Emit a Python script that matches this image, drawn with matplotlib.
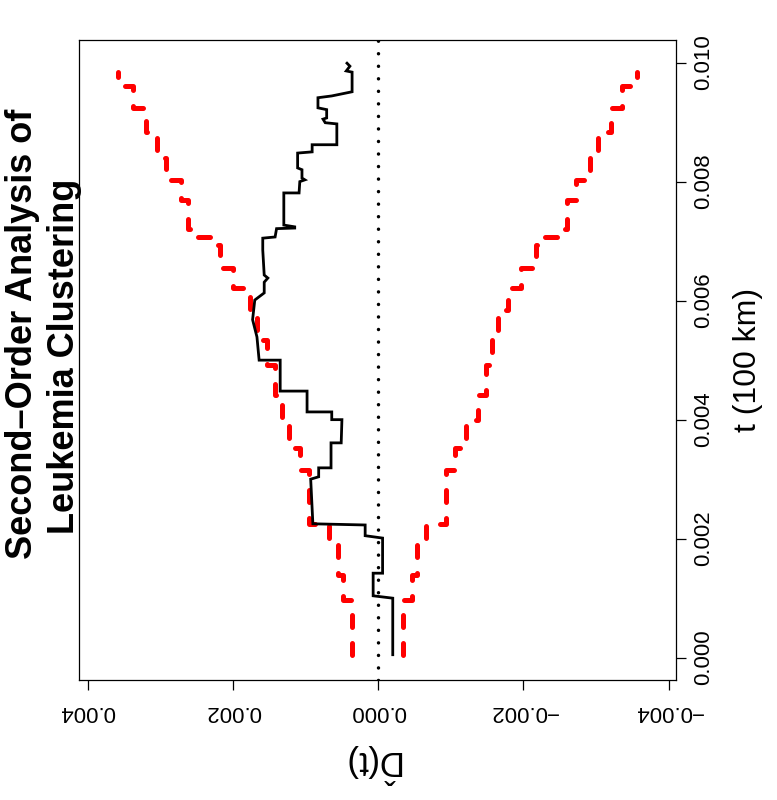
import matplotlib
matplotlib.use("Agg")
import matplotlib.pyplot as plt
import numpy as np

plt.rcParams["font.family"] = ["Liberation Sans", "DejaVu Sans"]
plt.rcParams["mathtext.fontset"] = "custom"
plt.rcParams["mathtext.rm"] = "Liberation Sans"
plt.rcParams["mathtext.it"] = "Liberation Sans"

# observed D-hat(t) curve (t in 100 km)
t_obs = [0.00005, 0.00100, 0.00104, 0.00142, 0.00142, 0.00201, 0.00205, 0.00223, 0.00225, 0.00300,
         0.00304, 0.00319, 0.00319, 0.00361, 0.00361, 0.00400, 0.00400, 0.00413, 0.00413, 0.00448,
         0.00448, 0.00500, 0.00500, 0.00539, 0.00568, 0.00601, 0.00613, 0.00631, 0.00638, 0.00643,
         0.00685, 0.00705, 0.00707, 0.00721, 0.00722, 0.00724, 0.00727, 0.00781, 0.00781, 0.00800,
         0.00803, 0.00806, 0.00820, 0.00823, 0.00848, 0.00850, 0.00862, 0.00862, 0.00897, 0.00899,
         0.00905, 0.00907, 0.00921, 0.00924, 0.00941, 0.00944, 0.00951, 0.00984, 0.00986, 0.00994,
         0.00999]
d_obs = [-0.00020, -0.00020, 0.00007, 0.00007, -0.00006, -0.00006, 0.00018, 0.00018, 0.00090, 0.00093,
         0.00082, 0.00082, 0.00065, 0.00065, 0.00051, 0.00050, 0.00064, 0.00064, 0.00098, 0.00098,
         0.00135, 0.00135, 0.00164, 0.00167, 0.00173, 0.00170, 0.00157, 0.00157, 0.00152, 0.00157,
         0.00159, 0.00159, 0.00142, 0.00140, 0.00115, 0.00115, 0.00130, 0.00130, 0.00109, 0.00108,
         0.00101, 0.00105, 0.00105, 0.00111, 0.00111, 0.00091, 0.00091, 0.00057, 0.00057, 0.00073,
         0.00076, 0.00071, 0.00071, 0.00083, 0.00083, 0.00064, 0.00036, 0.00036, 0.00044, 0.00039,
         0.00043]

# simulation envelope (step levels between t_env edges)
t_env = [0.00005, 0.00097, 0.00139, 0.00189, 0.00225, 0.00315, 0.00352, 0.00400, 0.00441, 0.00492,
         0.00534, 0.00584, 0.00621, 0.00655, 0.00693, 0.00707, 0.00720, 0.00769, 0.00803, 0.00840,
         0.00884, 0.00924, 0.00961, 0.00984]
d_upper = [0.00036, 0.00049, 0.00056, 0.00068, 0.00095, 0.00108, 0.00123, 0.00133, 0.00142, 0.00153,
           0.00167, 0.00177, 0.00200, 0.00218, 0.00229, 0.00248, 0.00262, 0.00272, 0.00292, 0.00305,
           0.00320, 0.00338, 0.00359]
d_lower = [-0.00034, -0.00046, -0.00053, -0.00066, -0.00093, -0.00106, -0.00121, -0.00137, -0.00149, -0.00157,
           -0.00165, -0.00178, -0.00196, -0.00217, -0.00228, -0.00246, -0.00260, -0.00273, -0.00291, -0.00303,
           -0.00320, -0.00336, -0.00357]

d_ticks = [0.004, 0.002, 0.0, -0.002, -0.004]
t_ticks = [0.000, 0.002, 0.004, 0.006, 0.008, 0.010]


def step_xy(edges, vals):
    # staircase along t (vertical axis)
    e = np.asarray(edges)
    v = np.asarray(vals)
    return np.repeat(v, 2), np.repeat(e, 2)[1:-1]


def fmt(v):
    return f"{v:.3f}".replace("-", "\u2212")


fig = plt.figure(figsize=(7.77, 8.0), dpi=100)
ax = fig.add_axes([0.1017, 0.15, 0.7683, 0.80])

for vals in (d_upper, d_lower):
    xs, ys = step_xy(t_env, vals)
    ax.plot(xs, ys, color="#FF0000", lw=3.6, linestyle=(0, (2.4, 3.2)),
            dash_capstyle="round", solid_joinstyle="round")

ax.plot(d_obs, t_obs, color="black", lw=2.0, solid_joinstyle="miter")
ax.axvline(0, color="black", lw=2.5, linestyle=(0, (0.01, 3.6)), dash_capstyle="round")

ax.set_xlim(0.00412, -0.0041)
ax.set_ylim(-0.000375, 0.01038)

ax.set_xticks(d_ticks)
ax.set_xticklabels([fmt(v) for v in d_ticks], rotation=180, fontsize=16)
ax.tick_params(axis="x", direction="out", length=7, width=0.9, pad=8)

ax.yaxis.tick_right()
ax.set_yticks(t_ticks)
ax.set_yticklabels([fmt(v) for v in t_ticks], fontsize=16)
ax.tick_params(axis="y", direction="out", length=7, width=0.9, pad=5, labelrotation=90)
for lab in ax.get_yticklabels():
    lab.set_va("center")

for sp in ax.spines.values():
    sp.set_linewidth(0.9)

ax.set_xlabel(r"$\mathrm{\hat{D}(t)}$", rotation=180, fontsize=25, labelpad=14)
ax.yaxis.set_label_position("right")
ax.set_ylabel("t (100 km)", fontsize=23, labelpad=14)

fig.text(0.029, 0.583, "Second\u2013Order Analysis of", rotation=90, fontsize=26,
         fontweight="bold", ha="center", va="center")
fig.text(0.083, 0.554, "Leukemia Clustering", rotation=90, fontsize=26,
         fontweight="bold", ha="center", va="center")

fig.savefig("out.png", dpi=100)
